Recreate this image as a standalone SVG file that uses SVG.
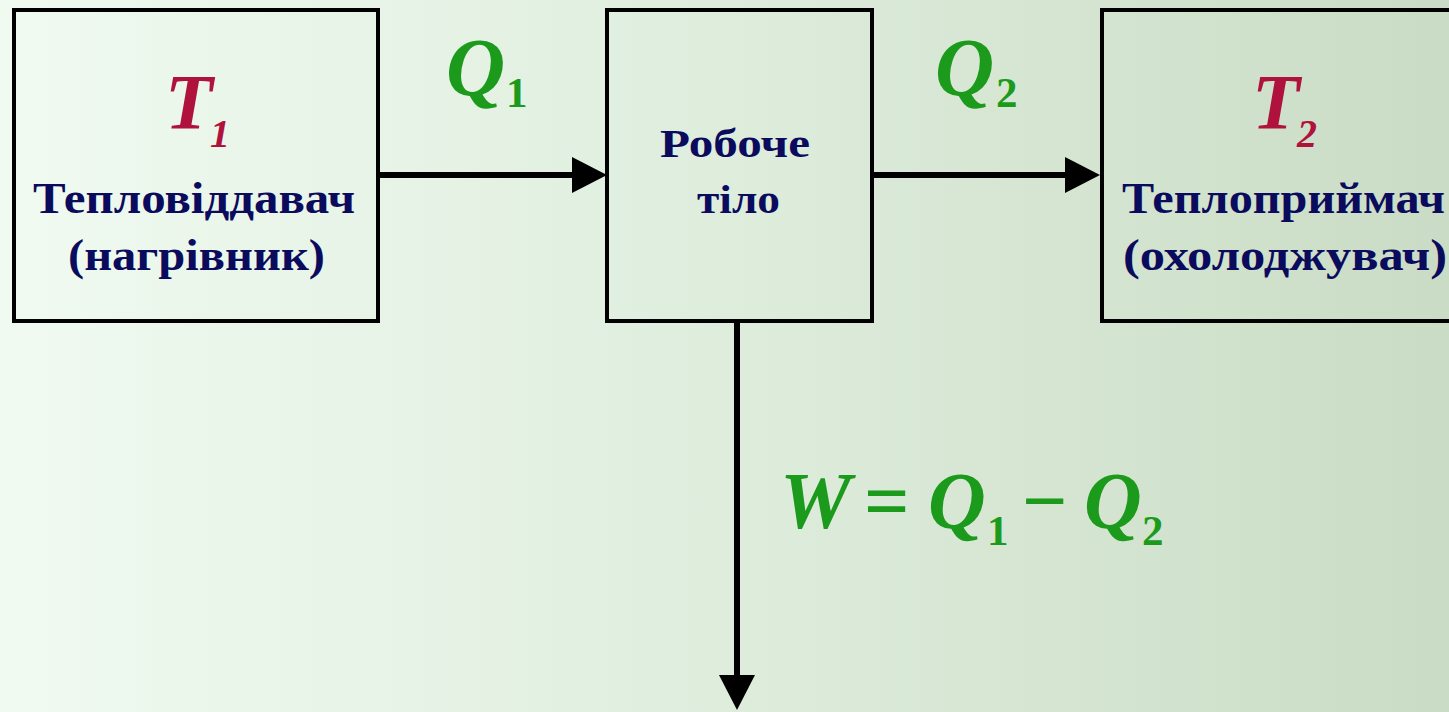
<svg xmlns="http://www.w3.org/2000/svg" width="1449" height="712" viewBox="0 0 1449 712">
<defs>
<linearGradient id="bg" x1="0" y1="0" x2="1" y2="0">
<stop offset="0" stop-color="#f0faf1"/>
<stop offset="0.4" stop-color="#e2f0e1"/>
<stop offset="1" stop-color="#cadcc5"/>
</linearGradient>
<marker id="ah" markerUnits="userSpaceOnUse" markerWidth="36" markerHeight="38" refX="0" refY="18" orient="auto">
<path d="M0,0 L35,18 L0,36 z" fill="#000"/>
</marker>
<style>
.box{fill:none;stroke:#000;stroke-width:4}
.con{fill:none;stroke:#000;stroke-width:6;marker-end:url(#ah)}
.lbl{font-family:"Liberation Serif","Times New Roman",serif;font-weight:bold;fill:#0b0b5e}
.tt{font-family:"Liberation Serif","Times New Roman",serif;font-weight:bold;font-style:italic;fill:#b0123e}
.q{font-family:"Liberation Serif","Times New Roman",serif;font-weight:bold;font-style:italic;fill:#1b9a1b}
.up{font-style:normal}
</style>
</defs>
<rect x="0" y="0" width="1449" height="712" fill="url(#bg)"/>
<g id="connectors">
<path class="con" d="M378,175 H572"/>
<path class="con" d="M872,175 H1065"/>
<path class="con" d="M737,321 V675"/>
</g>
<g id="node-heater">
<rect class="box" x="14" y="10" width="364" height="311"/>
<text class="tt" font-size="78"><tspan x="165" y="128">T</tspan><tspan x="210" y="147" font-size="40">1</tspan></text>
<text class="lbl" x="33" y="213" font-size="44" textLength="322" lengthAdjust="spacingAndGlyphs">Тепловіддавач</text>
<text class="lbl" x="68" y="270" font-size="44" textLength="257" lengthAdjust="spacingAndGlyphs">(нагрівник)</text>
</g>
<g id="node-body">
<rect class="box" x="607" y="10" width="265" height="311"/>
<text class="lbl" x="660" y="157" font-size="39" textLength="150" lengthAdjust="spacingAndGlyphs">Робоче</text>
<text class="lbl" x="697" y="213" font-size="39" textLength="83" lengthAdjust="spacingAndGlyphs">тіло</text>
</g>
<g id="node-cooler">
<rect class="box" x="1102" y="10" width="360" height="311"/>
<text class="tt" font-size="78"><tspan x="1252" y="128">T</tspan><tspan x="1297" y="147" font-size="40">2</tspan></text>
<text class="lbl" x="1122" y="213" font-size="44" textLength="323" lengthAdjust="spacingAndGlyphs">Теплоприймач</text>
<text class="lbl" x="1123" y="270" font-size="44" textLength="324" lengthAdjust="spacingAndGlyphs">(охолоджувач)</text>
</g>
<g id="label-q1">
<text class="q" font-size="82"><tspan x="446" y="95">Q</tspan><tspan class="up" x="506" y="107" font-size="43">1</tspan></text>
</g>
<g id="label-q2">
<text class="q" font-size="82"><tspan x="935" y="95">Q</tspan><tspan class="up" x="996" y="107" font-size="43">2</tspan></text>
</g>
<g id="label-w">
<text class="q" font-size="80"><tspan x="780" y="528">W</tspan><tspan class="up" x="864" y="528">=</tspan><tspan x="928" y="528">Q</tspan><tspan class="up" x="987" y="545" font-size="43">1</tspan><tspan class="up" x="1022" y="528">−</tspan><tspan x="1084" y="528">Q</tspan><tspan class="up" x="1142" y="545" font-size="43">2</tspan></text>
</g>
</svg>
